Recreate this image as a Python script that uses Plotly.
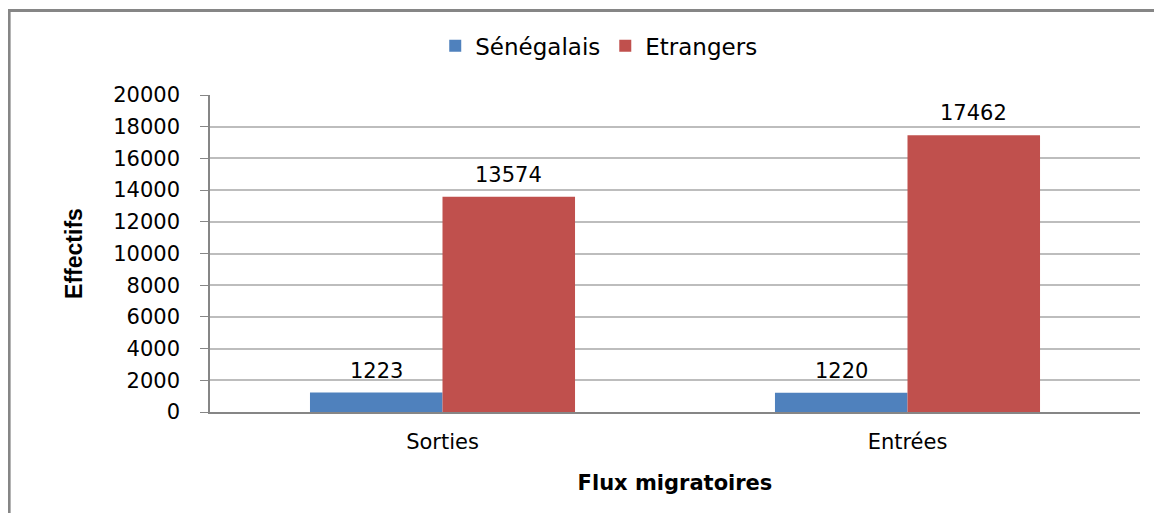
import plotly.graph_objects as go

categories = ["Sorties", "Entrées"]
senegalais = [1223, 1220]
etrangers = [13574, 17462]
series_names = ["Sénégalais", "Etrangers"]
y_ticks = [0, 2000, 4000, 6000, 8000, 10000, 12000, 14000, 16000, 18000, 20000]

FONT = "DejaVu Sans"

fig = go.Figure()
series = [(series_names[0], senegalais, "#4F81BD", -66),
          (series_names[1], etrangers, "#C0504D", 66)]
for name, vals, col, _ in series:
    fig.add_trace(go.Bar(
        x=categories, y=vals, name=name,
        marker=dict(color=col, line=dict(width=0)),
        cliponaxis=False,
    ))

for name, vals, col, dx in series:
    for c, v in zip(categories, vals):
        fig.add_annotation(x=c, y=v, text=str(v), showarrow=False,
                           xshift=dx, yshift=22,
                           font=dict(family=FONT, size=21, color="#000000"))

fig.update_layout(
    width=1154, height=505,
    margin=dict(l=202, r=22, t=87, b=101),
    paper_bgcolor="white", plot_bgcolor="white",
    barmode="group", bargap=0.43, bargroupgap=0,
    font=dict(family=FONT, size=21, color="#000000"),
    legend=dict(orientation="h", x=0.418, xanchor="center", y=1.155, yanchor="middle",
                font=dict(family=FONT, size=23, color="#000000"),
                itemwidth=30, traceorder="normal"),
    xaxis=dict(showline=True, linecolor="#868686", linewidth=1.5, ticks="",
               tickfont=dict(family=FONT, size=21), ticklabelstandoff=10,
               title=dict(text="<b>Flux migratoires</b>", standoff=22,
                          font=dict(family=FONT, size=21))),
    yaxis=dict(range=[0, 20000], tickvals=y_ticks, ticktext=[str(v) for v in y_ticks],
               showgrid=True, gridcolor="#BDBDBD", gridwidth=1.5,
               showline=True, linecolor="#868686", linewidth=1.5,
               ticks="outside", ticklen=8, tickcolor="#868686",
               tickfont=dict(family=FONT, size=21), ticklabelstandoff=16,
               zeroline=False,
               title=dict(text="<b>Effectifs</b>", standoff=24,
                          font=dict(family="Liberation Sans Narrow, Liberation Sans", size=23))),
    showlegend=True,
)

fig.add_shape(type="rect", xref="paper", yref="paper",
              x0=-0.216, x1=1.06, y0=-0.45, y1=1.2666,
              line=dict(color="#868686", width=3), fillcolor="rgba(0,0,0,0)", layer="above")

fig.write_html("out.html")
